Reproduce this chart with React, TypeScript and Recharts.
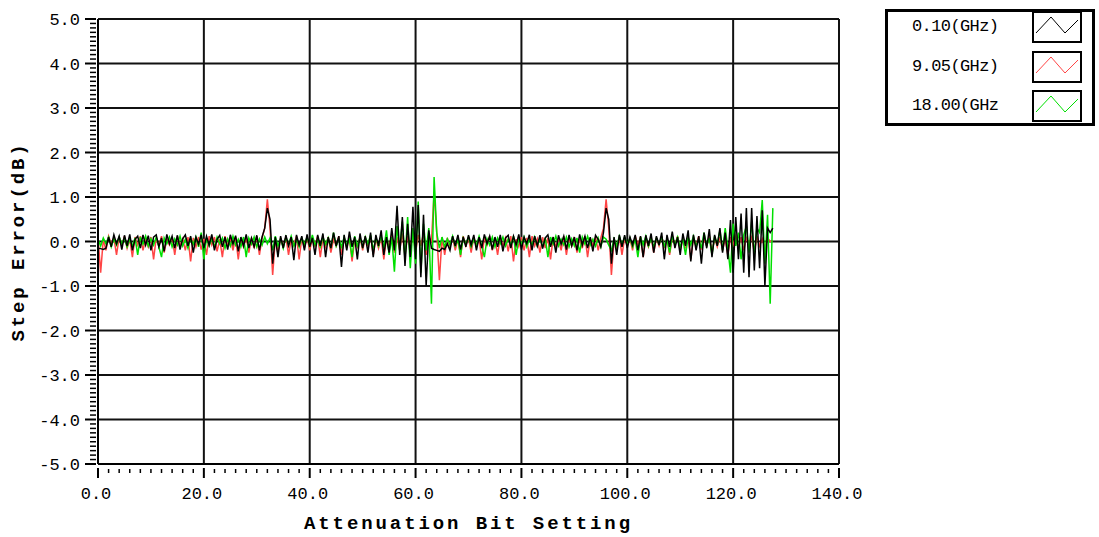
import { LineChart, Line, XAxis, YAxis, CartesianGrid, Legend, Label } from 'recharts';

// one sample every half bit setting, x = index * STEP
const STEP = 0.5;

// 0.10 GHz (black)
const BLACK_010 = [
  -0.15, -0.16, -0.18, -0.15, 0.10, -0.12, 0.15, -0.05, 0.12, -0.18,
  0.14, -0.10, 0.16, -0.20, 0.05, 0.12, -0.15, 0.15, -0.08, 0.13,
  -0.20, 0.10, 0.15, -0.12, 0.08, -0.22, 0.16, -0.05, 0.12, -0.15,
  0.14, -0.18, 0.06, 0.15, -0.10, 0.12, -0.25, 0.10, -0.06, 0.15,
  -0.15, 0.12, -0.08, 0.16, -0.20, 0.05, 0.14, -0.12, 0.10, -0.18,
  0.15, -0.06, 0.13, -0.22, 0.10, -0.10, 0.16, -0.15, 0.08, -0.12,
  0.14, -0.20, 0.10, 0.30, 0.75, 0.50, -0.50, 0.10, -0.35, 0.12,
  -0.15, 0.14, -0.10, 0.10, -0.42, 0.15, -0.08, 0.12, -0.20, 0.16,
  -0.12, 0.08, -0.30, 0.15, -0.10, 0.18, -0.35, 0.10, -0.15, 0.20,
  -0.10, 0.12, -0.57, 0.15, -0.20, 0.22, -0.12, 0.10, -0.40, 0.18,
  -0.15, 0.12, -0.25, 0.20, -0.35, 0.15, -0.10, 0.25, -0.30, 0.10,
  -0.25, 0.30, -0.20, 0.80, -0.30, 0.55, -0.55, 0.40, -0.35, 0.78,
  -0.40, 0.82, -0.80, 0.60, -1.00, 0.25, -0.15, -0.18, -0.20, -0.22,
  -0.15, -0.18, -0.05, -0.20, 0.12, -0.10, 0.15, -0.18, 0.10, -0.12,
  0.14, -0.08, 0.15, -0.20, 0.10, -0.15, 0.16, -0.05, 0.12, -0.18,
  0.10, -0.12, 0.15, -0.22, 0.08, 0.14, -0.15, 0.12, -0.08, 0.16,
  -0.18, 0.10, -0.05, 0.15, -0.20, 0.12, -0.10, 0.14, -0.16, 0.08,
  0.15, -0.12, 0.10, -0.25, 0.14, -0.06, 0.12, -0.18, 0.15, -0.10,
  0.10, -0.20, 0.16, -0.08, 0.12, -0.15, 0.10, -0.22, 0.14, 0.05,
  -0.12, 0.20, 0.75, 0.50, -0.50, 0.10, -0.30, 0.15, -0.12, 0.14,
  -0.15, 0.10, -0.08, 0.15, -0.20, 0.12, -0.35, 0.14, -0.10, 0.18,
  -0.25, 0.12, -0.08, 0.20, -0.40, 0.15, -0.12, 0.22, -0.15, 0.10,
  -0.30, 0.18, -0.10, 0.25, -0.45, 0.15, -0.20, 0.12, -0.50, 0.20,
  -0.15, 0.28, -0.35, 0.15, -0.10, 0.30, -0.25, 0.20, -0.40, 0.48,
  -0.70, 0.55, -0.40, 0.63, -0.70, 0.75, -0.80, 0.75, -0.65, 0.57,
  -0.60, 0.70, -1.00, 0.30, 0.20, 0.30,
];

// 9.05 GHz (red)
const RED_905 = [
  0.10, -0.70, 0.05, -0.20, 0.12, -0.05, 0.08, -0.30, 0.10, -0.10,
  0.12, -0.15, 0.05, -0.35, 0.10, -0.08, 0.12, -0.20, 0.06, -0.12,
  0.10, -0.40, 0.08, -0.10, 0.12, -0.25, 0.05, -0.08, 0.10, -0.30,
  0.12, -0.10, 0.06, -0.20, 0.10, -0.45, 0.08, -0.12, 0.10, -0.18,
  0.06, -0.30, 0.12, -0.08, 0.10, -0.22, 0.05, -0.35, 0.12, -0.10,
  0.08, -0.20, 0.10, -0.40, 0.06, -0.12, 0.10, -0.25, 0.08, -0.15,
  0.12, -0.30, 0.08, 0.30, 0.95, 0.30, -0.75, 0.05, -0.25, 0.08,
  -0.12, 0.10, -0.30, 0.06, -0.08, 0.12, -0.40, 0.08, -0.15, 0.10,
  -0.20, 0.06, -0.10, 0.12, -0.35, 0.08, -0.12, 0.10, -0.25, 0.05,
  -0.10, 0.12, -0.30, 0.08, -0.15, 0.10, -0.45, 0.06, -0.12, 0.10,
  -0.20, 0.08, -0.10, 0.12, -0.30, 0.06, -0.15, 0.10, -0.40, 0.08,
  -0.12, 0.15, -0.25, 0.10, -0.20, 0.18, -0.30, 0.12, -0.15, 0.20,
  -0.25, 0.15, -0.10, 0.20, -0.30, 0.10, 0.00, 1.10, 0.20, -0.87,
  0.10, -0.30, 0.08, -0.12, 0.10, -0.20, 0.06, -0.35, 0.12, -0.10,
  0.08, -0.25, 0.10, -0.12, 0.06, -0.40, 0.10, -0.08, 0.12, -0.20,
  0.06, -0.30, 0.10, -0.10, 0.08, -0.22, 0.12, -0.45, 0.05, -0.12,
  0.10, -0.20, 0.08, -0.35, 0.12, -0.10, 0.06, -0.25, 0.10, -0.15,
  0.08, -0.40, 0.10, -0.12, 0.06, -0.20, 0.12, -0.30, 0.08, -0.10,
  0.10, -0.25, 0.06, -0.15, 0.12, -0.35, 0.08, -0.10, 0.10, -0.20,
  0.08, 0.30, 0.95, 0.30, -0.75, 0.05, -0.15, 0.10, -0.30, 0.08,
  -0.10, 0.06, -0.20, 0.12, -0.08, 0.10, -0.35, 0.06, -0.12, 0.10,
  -0.25, 0.08, -0.10, 0.12, -0.15, 0.06, -0.30, 0.10, -0.08, 0.12,
  -0.20, 0.06, -0.12, 0.10, -0.40, 0.08, -0.10, 0.12, -0.18, 0.06,
  -0.10, 0.12, -0.25, 0.08, -0.12, 0.10, -0.20, 0.06, -0.30, 0.10,
  -0.08, 0.12, -0.15, 0.10, -0.20, 0.08, -0.05, 0.10, -0.25, 0.12,
  -0.10, 0.06, -0.15, 0.08, 0.00, 0.02,
];

// 18.00 GHz (green)
const GREEN_1800 = [
  0.05, -0.10, 0.08, -0.05, 0.10, -0.12, 0.06, -0.08, 0.10, -0.05,
  0.08, -0.12, 0.05, -0.10, 0.08, -0.30, 0.10, -0.06, 0.12, -0.10,
  0.06, -0.08, 0.10, -0.12, -0.35, 0.08, -0.05, 0.10, -0.12, 0.06,
  -0.08, 0.12, -0.10, 0.05, -0.15, 0.08, -0.06, 0.10, -0.12, 0.20,
  -0.40, 0.08, -0.10, 0.06, -0.12, 0.10, -0.05, 0.08, -0.15, 0.06,
  -0.10, 0.12, -0.08, 0.05, -0.12, 0.10, -0.35, 0.08, -0.06, 0.10,
  -0.12, 0.06, -0.08, 0.10, -0.05, 0.08, -0.20, 0.12, -0.10, 0.06,
  -0.15, 0.10, -0.08, 0.12, -0.10, 0.05, -0.12, 0.08, -0.06, 0.10,
  -0.10, 0.15, -0.08, 0.05, -0.12, 0.10, -0.06, 0.08, -0.15, 0.20,
  -0.10, 0.06, -0.12, 0.10, -0.08, 0.05, -0.35, 0.12, -0.10, 0.08,
  -0.12, 0.10, -0.06, 0.15, -0.20, 0.08, -0.10, 0.12, -0.15, 0.25,
  -0.30, 0.10, -0.68, 0.35, -0.20, 0.45, -0.40, 0.55, -0.60, 0.30,
  -0.50, 0.90, -0.70, 0.40, -0.20, 0.30, -1.40, 1.45, 0.20, -0.15,
  0.10, -0.12, 0.06, -0.08, 0.12, -0.10, 0.05, -0.30, 0.08, -0.06,
  0.10, -0.12, 0.05, -0.08, 0.12, -0.10, -0.35, 0.06, -0.08, 0.10,
  -0.12, 0.08, -0.05, 0.10, -0.10, 0.06, -0.08, 0.12, -0.30, 0.08,
  -0.06, 0.10, -0.12, 0.05, -0.08, 0.10, -0.10, 0.06, -0.12, 0.08,
  -0.35, 0.10, -0.06, 0.12, -0.10, 0.05, -0.08, 0.10, -0.12, 0.06,
  -0.10, 0.08, -0.25, 0.10, -0.06, 0.12, -0.08, 0.05, -0.10, 0.08,
  -0.12, 0.10, 0.05, -0.08, -0.20, 0.06, -0.10, 0.12, -0.08, 0.10,
  -0.06, 0.08, -0.12, 0.05, -0.35, 0.10, -0.08, 0.12, -0.10, 0.06,
  -0.12, 0.08, -0.06, 0.10, -0.10, 0.05, -0.25, 0.12, -0.08, 0.10,
  -0.12, 0.06, -0.30, 0.10, -0.08, 0.12, -0.10, 0.05, -0.15, 0.20,
  -0.10, 0.08, -0.30, 0.12, -0.08, 0.25, -0.20, 0.30, -0.15, -0.70,
  0.40, -0.10, 0.20, -0.40, 0.15, 0.35, -0.25, 0.45, -0.30, 0.30,
  0.20, 0.93, -0.50, 0.60, -1.40, 0.75,
];

// legend labels as printed in the original (the last one is truncated there)
const SERIES = [
  { key: 'b', name: '0.10(GHz)', color: '#000000', values: BLACK_010 },
  { key: 'r', name: '9.05(GHz)', color: '#ff4545', values: RED_905 },
  { key: 'g', name: '18.00(GHz', color: '#00e000', values: GREEN_1800 },
];
// drawn bottom to top
const DRAW_ORDER = ['r', 'g', 'b'];

const X_MAJOR = [0, 20, 40, 60, 80, 100, 120, 140];
const Y_MAJOR = [-5, -4, -3, -2, -1, 0, 1, 2, 3, 4, 5];
const X_MINOR = 2;
const Y_MINOR = 0.1;

const xTicks = Array.from({ length: 140 / X_MINOR + 1 }, (_, i) => i * X_MINOR);
const yTicks = Array.from({ length: Math.round(10 / Y_MINOR) + 1 }, (_, i) => Math.round((i * Y_MINOR - 5) * 10) / 10);

const data = BLACK_010.map((_, i) => {
  const row: any = { x: i * STEP };
  SERIES.forEach((s) => { row[s.key] = s.values[i]; });
  return row;
});

const tickFont = { fontFamily: '"Liberation Mono", monospace', fontSize: 17, fill: '#000' };
const titleFont = { fontFamily: '"Liberation Mono", monospace', fontSize: 19, fontWeight: 700, letterSpacing: 2.9, fill: '#000' };

const XTick = (props: any) => {
  const { x, y, payload } = props;
  const major = X_MAJOR.includes(payload.value);
  return (
    <g>
      <line x1={x} x2={x} y1={y + (major ? 4 : 5)} y2={y + (major ? 14 : 9)} stroke="#000" strokeWidth={major ? 2 : 1.5} />
      {major && (
        <text x={x - 2} y={y + 35} textAnchor="middle" {...tickFont}>
          {payload.value.toFixed(1)}
        </text>
      )}
    </g>
  );
};

const YTick = (props: any) => {
  const { x, y, payload } = props;
  const major = Y_MAJOR.some((v) => Math.abs(v - payload.value) < 1e-6);
  return (
    <g>
      <line x1={x - (major ? 13 : 8)} x2={x - 2} y1={y} y2={y} stroke="#000" strokeWidth={major ? 2 : 1.5} />
      {major && (
        <text x={x - 18} y={y + 6} textAnchor="end" {...tickFont}>
          {payload.value.toFixed(1)}
        </text>
      )}
    </g>
  );
};

const LegendBox = ({ payload }: any) => {
  const items = SERIES.map((s) => (payload || []).find((p: any) => p.value === s.name)).filter(Boolean);
  return (
    <div
      style={{
        width: 210,
        height: 117,
        border: '3px solid #000',
        boxSizing: 'border-box',
        background: '#fff',
        position: 'relative',
      }}
    >
      {items.map((p: any, i: number) => {
        const top = 2 + i * 39.5 - 3;
        return (
          <div key={p.value}>
            <div
              style={{
                position: 'absolute',
                left: 24,
                top: top,
                height: 32,
                width: 110,
                whiteSpace: 'nowrap',
                lineHeight: '32px',
                fontFamily: '"Liberation Mono", monospace',
                fontSize: 17,
                letterSpacing: -0.6,
                color: '#000',
              }}
            >
              {p.value}
            </div>
            <svg
              width={50}
              height={32}
              style={{ position: 'absolute', left: 144, top: top }}
            >
              <rect x={1} y={1} width={48} height={30} fill="#fff" stroke="#000" strokeWidth={2} />
              <polyline points="4,22 19,6 33,22 46,9" fill="none" stroke={p.color} strokeWidth={1} />
            </svg>
          </div>
        );
      })}
    </div>
  );
};

export default function App() {
  const lines = DRAW_ORDER.map((k) => SERIES.find((s) => s.key === k)!);
  return (
    <div style={{ position: 'absolute', left: 0, top: 0, background: '#fff' }}>
      <LineChart width={1099} height={537} data={data} margin={{ top: 19, right: 260, bottom: 0, left: 0 }}>
        <CartesianGrid
          stroke="#111"
          strokeWidth={2}
          horizontalValues={Y_MAJOR}
          verticalValues={X_MAJOR}
        />
        <XAxis
          type="number"
          dataKey="x"
          domain={[0, 140]}
          ticks={xTicks}
          interval={0}
          height={73}
          tickLine={false}
          tickSize={0}
          tickMargin={0}
          axisLine={{ stroke: '#000', strokeWidth: 2 }}
          tick={<XTick />}
          allowDataOverflow
        >
          <Label
            content={({ viewBox }: any) => (
              <text x={viewBox.x + viewBox.width / 2} y={529} textAnchor="middle" {...titleFont}>
                Attenuation Bit Setting
              </text>
            )}
          />
        </XAxis>
        <YAxis
          type="number"
          domain={[-5, 5]}
          ticks={yTicks}
          interval={0}
          width={98}
          tickLine={false}
          tickSize={0}
          tickMargin={0}
          axisLine={{ stroke: '#000', strokeWidth: 2 }}
          tick={<YTick />}
          allowDataOverflow
        >
          <Label
            content={({ viewBox }: any) => {
              const cx = 19;
              const cy = viewBox.y + viewBox.height / 2;
              return (
                <text
                  x={cx}
                  y={cy}
                  textAnchor="middle"
                  dominantBaseline="central"
                  transform={`rotate(-90 ${cx} ${cy})`}
                  {...titleFont}
                >
                  Step Error(dB)
                </text>
              );
            }}
          />
        </YAxis>
        <Legend
          layout="vertical"
          align="center"
          verticalAlign="middle"
          content={<LegendBox />}
          wrapperStyle={{ left: 885, top: 9, width: 210, height: 117 }}
        />
        {lines.map((s) => (
          <Line
            key={s.key}
            type="linear"
            dataKey={s.key}
            name={s.name}
            stroke={s.color}
            strokeWidth={1.5}
            dot={false}
            activeDot={false}
            isAnimationActive={false}
          />
        ))}
      </LineChart>
    </div>
  );
}
